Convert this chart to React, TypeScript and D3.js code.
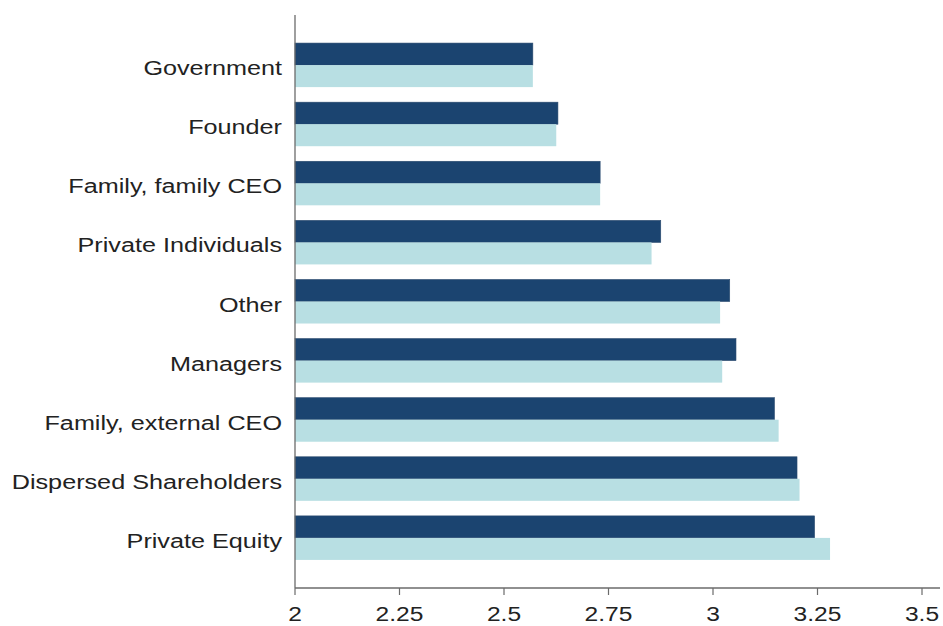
import React from "react";
import * as d3 from "d3";

const categories = [
  "Government",
  "Founder",
  "Family, family CEO",
  "Private Individuals",
  "Other",
  "Managers",
  "Family, external CEO",
  "Dispersed Shareholders",
  "Private Equity",
];
const seriesDark = [2.569, 2.629, 2.73, 2.875, 3.04, 3.055, 3.147, 3.201, 3.243];
const seriesLight = [2.569, 2.625, 2.73, 2.853, 3.017, 3.022, 3.157, 3.207, 3.28];
const tickValues = [2, 2.25, 2.5, 2.75, 3, 3.25, 3.5];
const tickLabels = ["2", "2.25", "2.5", "2.75", "3", "3.25", "3.5"];

const W = 943;
const H = 626;
const DARK = "#1b4470";
const LIGHT = "#b8dfe3";
const AXIS = "#6b6b6b";
const TEXT = "#222222";
const FONT = "'Liberation Sans', Arial, sans-serif";

export default function App() {
  const x = d3.scaleLinear().domain([2, 3.5]).range([295, 922]);
  const xEnd = 940;
  const axisY = 588;
  const y = d3
    .scaleBand<string>()
    .domain(categories)
    .range([15, axisY])
    .paddingInner(0.255)
    .paddingOuter(0.475);
  const bw = y.bandwidth();
  const half = bw / 2;

  return (
    <svg
      width={W}
      height={H}
      style={{ position: "absolute", left: 0, top: 0, background: "#fff" }}
    >
      <g>
        {categories.map((c, i) => {
          const y0 = y(c)!;
          return (
            <g key={c}>
              <rect
                x={x(2)}
                y={y0}
                width={x(seriesDark[i]) - x(2)}
                height={half}
                fill={DARK}
                stroke="#2a4a6e"
                strokeWidth={0.6}
              />
              <rect
                x={x(2)}
                y={y0 + half}
                width={x(seriesLight[i]) - x(2)}
                height={half}
                fill={LIGHT}
              />
              <text
                transform={`translate(282,${y0 + half + 10}) scale(1.2,1)`}
                textAnchor="end"
                fontFamily={FONT}
                fontSize={21}
                fill={TEXT}
              >
                {c}
              </text>
            </g>
          );
        })}
      </g>
      {/* axes */}
      <line x1={x(2)} x2={x(2)} y1={15} y2={axisY} stroke={AXIS} strokeWidth={1.3} />
      <line x1={x(2)} x2={xEnd} y1={axisY} y2={axisY} stroke={AXIS} strokeWidth={1.3} />
      {tickValues.map((t, i) => (
        <g key={t}>
          <line x1={x(t)} x2={x(t)} y1={axisY} y2={axisY + 7} stroke={AXIS} strokeWidth={1.2} />
          <text
            transform={`translate(${x(t)},${axisY + 33}) scale(1.17,1)`}
            textAnchor="middle"
            fontFamily={FONT}
            fontSize={21}
            fill={TEXT}
          >
            {tickLabels[i]}
          </text>
        </g>
      ))}
    </svg>
  );
}
